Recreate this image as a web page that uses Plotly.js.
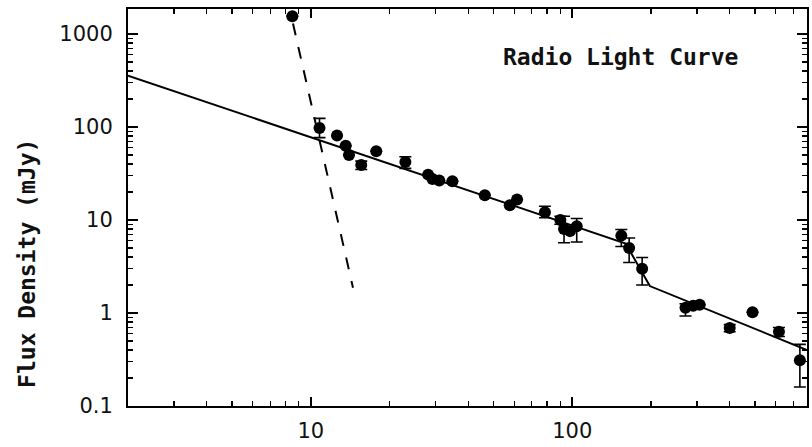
<!DOCTYPE html>
<html>
<head>
<meta charset="utf-8">
<script src="https://cdn.plot.ly/plotly-3.0.1.min.js"></script>
<style>html,body{margin:0;padding:0;background:#fff;}#chart{width:812px;height:447px;}</style>
</head>
<body>
<div id="chart"></div>
<script>
// Observed radio flux densities (days, mJy)
const days = [8.5, 10.8, 12.6, 13.6, 14.0, 15.6, 17.8, 23.0, 28.1, 29.2, 31.0, 34.8, 46.3, 57.7, 61.5, 78.6, 90, 93, 98, 104, 154, 165, 185, 271, 290, 307, 400, 489, 617, 742];
const flux = [1560, 98, 81, 63, 50, 39, 55, 42, 30.8, 27.7, 26.6, 26.1, 18.5, 14.4, 16.6, 12.1, 10.0, 8.0, 7.6, 8.6, 6.8, 5.0, 3.0, 1.14, 1.2, 1.23, 0.69, 1.02, 0.63, 0.31];
const errPlus  = [0, 26, 0, 0, 0, 4, 0, 6, 0, 0, 0, 0, 0, 0, 0, 2.0, 1.0, 3.0, 0, 1.8, 1.1, 1.4, 0.95, 0.12, 0, 0, 0.06, 0, 0.07, 0.15];
const errMinus = [0, 21, 0, 0, 0, 4, 0, 6, 0, 0, 0, 0, 0, 0, 0, 1.5, 1.0, 2.3, 0, 2.8, 1.6, 1.5, 1.0, 0.21, 0, 0, 0.06, 0, 0.07, 0.15];

// Power-law model (solid) vertices
const modelDays = [2.0, 160, 198, 790];
const modelFlux = [358, 5.6, 1.95, 0.40];

// Early steep decline (dashed)
const dashDays = [8.55, 14.5];
const dashFlux = [1300, 1.87];

// Axis labels
const xTickVals = [10, 100];
const xTickText = ['10', '100'];
const yTickVals = [0.1, 1, 10, 100, 1000];
const yTickText = ['0.1', '1', '10', '100', '1000'];

function minorVals(lo, hi) {
  const v = [];
  for (let d = lo; d < hi; d++) {
    for (let k = 2; k <= 9; k++) v.push(k * Math.pow(10, d));
  }
  return v;
}

const traces = [
  {
    x: modelDays, y: modelFlux, mode: 'lines', type: 'scatter',
    line: {color: '#000', width: 2}, hoverinfo: 'skip'
  },
  {
    x: dashDays, y: dashFlux, mode: 'lines', type: 'scatter',
    line: {color: '#000', width: 2, dash: '12px,12px'}, hoverinfo: 'skip'
  },
  {
    x: days, y: flux, mode: 'markers', type: 'scatter',
    marker: {color: '#000', size: 12},
    error_y: {type: 'data', symmetric: false, array: errPlus, arrayminus: errMinus,
              color: '#000', thickness: 1.6, width: 6}
  }
];

const axisCommon = {
  type: 'log', showgrid: false, zeroline: false,
  showline: true, linecolor: '#000', linewidth: 2, mirror: 'allticks',
  ticks: 'inside', ticklen: 10, tickwidth: 1.6, tickcolor: '#000',
  tickfont: {family: 'DejaVu Sans', size: 21, color: '#111'}
};

const layout = {
  width: 812, height: 447,
  margin: {l: 128, r: 5, t: 9, b: 41},
  paper_bgcolor: '#fff', plot_bgcolor: '#fff',
  showlegend: false,
  xaxis: Object.assign({}, axisCommon, {
    range: [Math.log10(2), Math.log10(790)],
    tickmode: 'array', tickvals: xTickVals, ticktext: xTickText,
    ticklen: 9, ticklabelstandoff: 5,
    minor: {tickmode: 'array', tickvals: minorVals(0, 3), ticks: 'inside', ticklen: 5, tickwidth: 1.3, tickcolor: '#000', showgrid: false}
  }),
  yaxis: Object.assign({}, axisCommon, {
    range: [-1, 3.27],
    tickmode: 'array', tickvals: yTickVals, ticktext: yTickText,
    ticklabelstandoff: 9,
    minor: {tickmode: 'array', tickvals: minorVals(-1, 4), ticks: 'inside', ticklen: 5, tickwidth: 1.3, tickcolor: '#000', showgrid: false}
  }),
  annotations: [
    {
      text: 'Flux Density (mJy)', xref: 'paper', yref: 'paper',
      x: -0.1487, y: 0.358, textangle: -90, showarrow: false,
      xanchor: 'center', yanchor: 'middle',
      font: {family: 'DejaVu Sans Mono', size: 23, color: '#111', weight: 'bold'}
    },
    {
      text: 'Radio Light Curve', xref: 'paper', yref: 'paper',
      x: 0.7246, y: 0.879, showarrow: false,
      xanchor: 'center', yanchor: 'middle',
      font: {family: 'DejaVu Sans Mono', size: 23, color: '#111', weight: 'bold'}
    }
  ]
};

Plotly.newPlot('chart', traces, layout, {displayModeBar: false, staticPlot: true});
</script>
</body>
</html>
